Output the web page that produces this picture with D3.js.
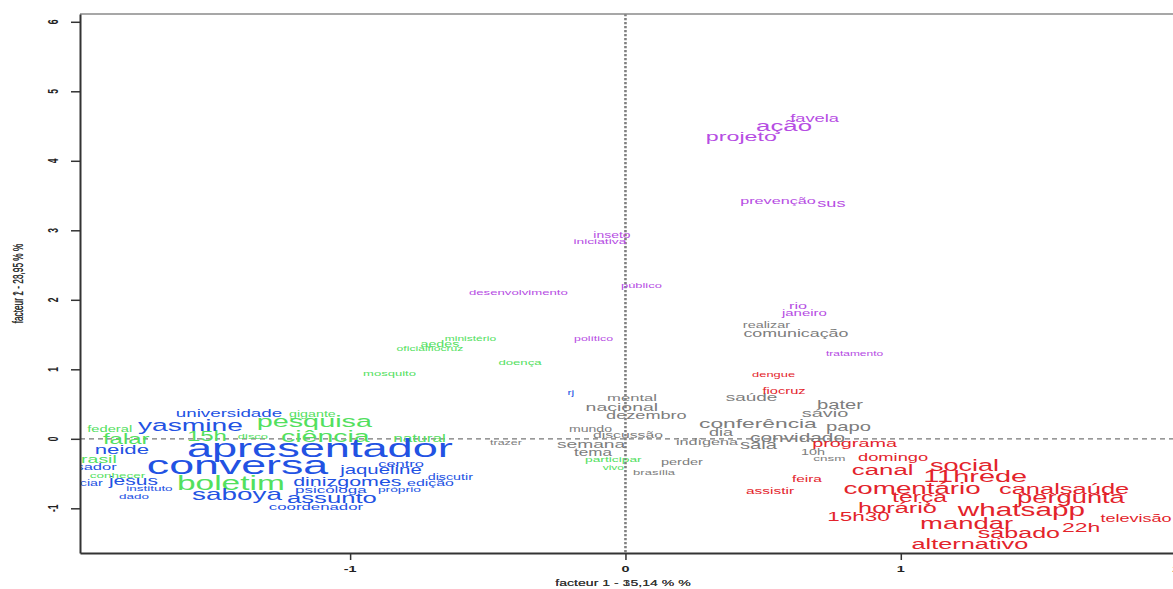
<!DOCTYPE html>
<html><head><meta charset="utf-8">
<script src="https://cdn.jsdelivr.net/npm/d3@7"></script>
<style>body{margin:0;background:#fff} svg{display:block;font-family:"Liberation Sans",Arial,sans-serif}</style>
</head><body><svg id="c" width="1173" height="589"></svg>
<script>
// ---------- data ----------
const xTicks = [-1, 0, 1, 2];
const yTicks = [-1, 0, 1, 2, 3, 4, 5, 6];
const xDomain = [-1.981, 2.014];
const yDomain = [-1.643, 6.112];
const xTitle = "facteur  1 - 35,14 % %";
const xTitleGhost = "facteur  1 - 15,14 % %";
const yTitle = "facteur  2 - 28,95 % %";
const yTitleGhost = "facteur  1 - 23,95 % %";

const redWords = ["comentário","whatsapp","canalsaúde","pergunta","11hrede","social","canal","terça","horário","15h30","mandar","sábado","22h","alternativo","televisão","programa","domingo","feira","assistir","fiocruz","dengue"];
const redX = [1.041,1.438,1.593,1.618,1.270,1.231,0.934,1.068,0.988,0.846,1.239,1.429,1.655,1.251,1.854,0.832,0.972,0.659,0.525,0.576,0.538];
const redY = [-0.737,-1.049,-0.737,-0.856,-0.560,-0.401,-0.459,-0.856,-1.010,-1.129,-1.230,-1.370,-1.288,-1.532,-1.158,-0.075,-0.281,-0.593,-0.761,0.678,0.918];
const redW = [18.5,19.8,17,18.2,19.3,18,17.2,16.5,16.9,15,18.3,16.7,15.3,16.9,12,13.2,12.2,10.3,10.3,9.8,8.6];

const grayWords = ["conferência","convidado","sala","papo","bater","sávio","saúde","dia","indígena","10h","cnsm","mental","nacional","dezembro","mundo","discussão","semana","tema","trazer","perder","brasília","realizar","comunicação"];
const grayX = [0.481,0.625,0.483,0.810,0.779,0.725,0.458,0.347,0.296,0.681,0.741,0.024,-0.013,0.076,-0.127,0.009,-0.125,-0.118,-0.434,0.205,0.104,0.512,0.619];
const grayY = [0.213,0.007,-0.104,0.165,0.482,0.357,0.591,0.088,-0.056,-0.204,-0.286,0.583,0.439,0.332,0.127,0.045,-0.089,-0.209,-0.056,-0.338,-0.496,1.627,1.508];
const grayW = [15.2,13.9,13.5,13.5,13.5,13.3,12.6,12,10.8,9.6,9,11.1,13,12.1,9.4,10.5,12.8,11.4,8.3,9.7,8.7,9.6,11.9];

const purpleWords = ["favela","ação","projeto","prevenção","sus","rio","janeiro","tratamento","inseto","iniciativa","público","desenvolvimento","político"];
const purpleX = [0.687,0.576,0.421,0.554,0.748,0.627,0.650,0.832,-0.049,-0.093,0.058,-0.389,-0.116];
const purpleY = [4.597,4.482,4.338,3.412,3.378,1.901,1.806,1.216,2.922,2.836,2.199,2.094,1.436];
const purpleW = [12.2,17.2,15.5,10.8,12.1,10.8,10,8,9.3,9.2,8.6,8.8,8.2];

const greenWords = ["boletim","pesquisa","ciência","15h","falar","natural","gigante","disco","federal","brasil","conhecer","mosquito","doença","ministério","aedes","oficialfiocruz","participar","vivo"];
const greenX = [-1.433,-1.130,-1.090,-1.520,-1.813,-0.748,-1.137,-1.353,-1.873,-1.932,-1.845,-0.857,-0.383,-0.563,-0.674,-0.710,-0.044,-0.044];
const greenY = [-0.665,0.232,0.022,0.022,-0.017,-0.007,0.353,0.030,0.127,-0.305,-0.531,0.928,1.086,1.432,1.360,1.292,-0.295,-0.424];
const greenW = [22.3,19.2,19,16,16,11.5,9.5,8.6,9.8,13,9,8.7,8.8,8,9.5,8.1,9.2,8];

const blueWords = ["apresentador","conversa","yasmine","universidade","neide","jesus","saboya","assunto","dinizgomes","jaqueline","centro","edição","discutir","psicóloga","próprio","coordenador","instituto","dado","pesquisador","financiar","rj"];
const blueX = [-1.110,-1.409,-1.580,-1.440,-1.829,-1.787,-1.411,-1.066,-1.010,-0.888,-0.815,-0.708,-0.636,-1.070,-0.821,-1.124,-1.729,-1.785,-2.011,-1.996,-0.198];
const blueY = [-0.161,-0.401,0.174,0.353,-0.171,-0.617,-0.819,-0.866,-0.632,-0.459,-0.363,-0.640,-0.560,-0.737,-0.727,-0.986,-0.727,-0.842,-0.410,-0.650,0.655];
const blueW = [30.1,29.8,18.8,12.5,14.8,14,18.6,17.1,14.3,13.6,11,10.6,9.5,11.3,9.2,11.2,9,9,11,9.5,8];

// ---------- layout / styles ----------
const classes = [
  {words: grayWords, xs: grayX, ys: grayY, ws: grayW, color: "#7d7d7d"},
  {words: purpleWords, xs: purpleX, ys: purpleY, ws: purpleW, color: "#b64de3"},
  {words: greenWords, xs: greenX, ys: greenY, ws: greenW, color: "#52e05e"},
  {words: blueWords, xs: blueX, ys: blueY, ws: blueW, color: "#2252e3"},
  {words: redWords, xs: redX, ys: redY, ws: redW, color: "#e3232b"}
];
const SX = 1.7; // horizontal stretch of the reference rendering
const plot = {left: 80, right: 1180, top: 14, bottom: 553};

const svg = d3.select("#c");
const x = d3.scaleLinear().domain(xDomain).range([plot.left, plot.right]);
const y = d3.scaleLinear().domain(yDomain).range([plot.bottom, plot.top]);
const fontSize = d3.scaleLinear().domain([0, 30]).range([0, 30 * 1.5 / SX]);

svg.append("rect").attr("width", 1173).attr("height", 589).attr("fill", "#fff");

svg.append("defs").append("clipPath").attr("id", "clip")
  .append("rect").attr("x", plot.left).attr("y", plot.top)
  .attr("width", plot.right - plot.left).attr("height", plot.bottom - plot.top);

// reference lines
svg.append("line").attr("x1", plot.left).attr("x2", plot.right)
  .attr("y1", y(0)).attr("y2", y(0))
  .attr("stroke", "#777").attr("stroke-width", 1.2).attr("stroke-dasharray", "5,4");
svg.append("line").attr("x1", x(0)).attr("x2", x(0))
  .attr("y1", plot.top).attr("y2", plot.bottom)
  .attr("stroke", "#808080").attr("stroke-width", 2.6).attr("stroke-dasharray", "2.2,1.8");

// words
const g = svg.append("g").attr("clip-path", "url(#clip)");
classes.forEach(c => {
  const data = c.words.map((w, i) => ({w, x: c.xs[i], y: c.ys[i], s: c.ws[i]}));
  g.selectAll(null).data(data).enter().append("text")
    .attr("transform", d => `translate(${x(d.x)},${y(d.y)}) scale(${SX},1)`)
    .attr("text-anchor", "middle")
    .attr("dy", "0.27em")
    .attr("font-size", d => fontSize(d.s))
    .attr("fill", c.color)
    .text(d => d.w);
});

// frame
svg.append("line").attr("x1", plot.left).attr("x2", plot.right)
  .attr("y1", plot.top).attr("y2", plot.top).attr("stroke", "#8a8a8a").attr("stroke-width", 1.4);
svg.append("line").attr("x1", plot.right).attr("x2", plot.right)
  .attr("y1", plot.top).attr("y2", plot.bottom).attr("stroke", "#8a8a8a").attr("stroke-width", 1.4);

// axes
const yAxis = svg.append("g").attr("transform", `translate(${plot.left},0)`)
  .call(d3.axisLeft(y).tickValues(yTicks).tickSize(9).tickSizeOuter(0).tickFormat(""));
const xAxis = svg.append("g").attr("transform", `translate(0,${plot.bottom})`)
  .call(d3.axisBottom(x).tickValues(xTicks).tickSize(7).tickSizeOuter(0).tickFormat(""));
[yAxis, xAxis].forEach(a => {
  a.select(".domain").attr("stroke", "#333").attr("stroke-width", 2);
  a.selectAll(".tick line").attr("stroke", "#333").attr("stroke-width", 1.5);
});

svg.selectAll(null).data(yTicks).enter().append("text")
  .attr("transform", d => `translate(53,${y(d)}) scale(${SX},1) rotate(-90)`)
  .attr("text-anchor", "middle").attr("dy", "0.35em")
  .attr("font-size", 8.5).attr("font-weight", "bold").attr("fill", "#222")
  .text(d => String(d));
svg.selectAll(null).data(xTicks).enter().append("text")
  .attr("transform", d => `translate(${x(d)},569) scale(${SX},1)`)
  .attr("text-anchor", "middle").attr("dy", "0.35em")
  .attr("font-size", 8.5).attr("font-weight", "bold").attr("fill", "#222")
  .text(d => String(d));

// axis titles (two overlapping strings, as in the reference)
const xc = 623;
[xTitle, xTitleGhost].forEach(t => {
  svg.append("text").attr("transform", `translate(${xc},586) scale(${SX},1)`)
    .attr("text-anchor", "middle").attr("font-size", 8.3).attr("fill", "#333").text(t);
});
const yc = (plot.top + plot.bottom) / 2;
[yTitle, yTitleGhost].forEach(t => {
  svg.append("text").attr("transform", `translate(18,${yc}) scale(${SX},1) rotate(-90)`)
    .attr("text-anchor", "middle").attr("dy", "0.35em").attr("font-size", 8.3).attr("fill", "#333").text(t);
});
</script></body></html>
